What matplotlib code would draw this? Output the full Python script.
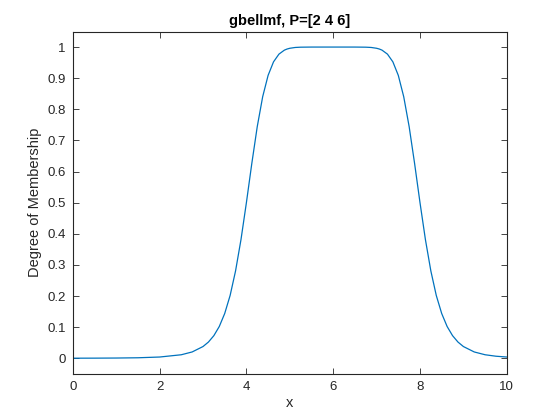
import matplotlib
matplotlib.use('Agg')
from matplotlib import pyplot as plt

# points (a=2, b=4, c=6)
x = [0, 0.5, 1, 1.5, 2, 2.5, 2.75, 3, 3.125, 3.25, 3.375, 3.5, 3.625, 3.75, 3.875,
     4, 4.125, 4.25, 4.375, 4.5, 4.625, 4.75, 4.875, 4.9375, 5, 5.125, 5.25, 5.5, 6,
     6.5, 6.75, 6.875, 7, 7.0625, 7.125, 7.25, 7.375, 7.5, 7.625, 7.75, 7.875, 8, 8.125,
     8.25, 8.375, 8.5, 8.625, 8.75, 8.875, 9, 9.25, 9.5, 9.75, 10]
y = [0.00015, 0.0003, 0.00066, 0.00152, 0.0039, 0.0112, 0.0202, 0.0376, 0.0520, 0.0726,
     0.1020, 0.1437, 0.2018, 0.2805, 0.3811, 0.5, 0.6263, 0.7443, 0.8404, 0.909,
     0.9525, 0.9773, 0.9901, 0.9937, 0.9961, 0.9987, 0.9996, 0.99998, 1.0,
     0.99998, 0.9996, 0.9987, 0.9961, 0.9937, 0.9901, 0.9773, 0.9525, 0.909, 0.8404,
     0.7443, 0.6263, 0.5, 0.3811, 0.2805, 0.2018, 0.1437, 0.1020, 0.0726, 0.0520,
     0.0376, 0.0202, 0.0112, 0.0065, 0.0039]
xticks = [0, 2, 4, 6, 8, 10]
yticks = [0, 0.1, 0.2, 0.3, 0.4, 0.5, 0.6, 0.7, 0.8, 0.9, 1]
yticklabels = ['0', '0.1', '0.2', '0.3', '0.4', '0.5', '0.6', '0.7', '0.8', '0.9', '1']

plt.rcParams['font.family'] = ['Liberation Sans', 'DejaVu Sans']
fig = plt.figure(figsize=(5.6, 4.2), dpi=100)
ax = fig.add_axes([0.13, 0.11, 0.775, 0.815])
ax.plot(x, y, color='#0072BD', lw=0.9)

ax.set_xlim(0, 10)
ax.set_ylim(-0.05, 1.05)
ax.set_xticks(xticks)
ax.set_yticks(yticks)
ax.set_yticklabels(yticklabels)
ax.tick_params(direction='in', top=True, right=True, length=4, width=0.6,
               labelsize=9.5, colors='#262626', pad=5)
for s in ax.spines.values():
    s.set_color('#262626')
    s.set_linewidth(0.8)

ax.set_title('gbellmf, P=[2 4 6]', fontsize=10.5, fontweight='bold', color='black', pad=5)
ax.set_xlabel('x', fontsize=10.5, color='#262626', labelpad=2)
ax.set_ylabel('Degree of Membership', fontsize=10.5, color='#262626', labelpad=4)

fig.savefig('out.png', dpi=100, facecolor='white')
